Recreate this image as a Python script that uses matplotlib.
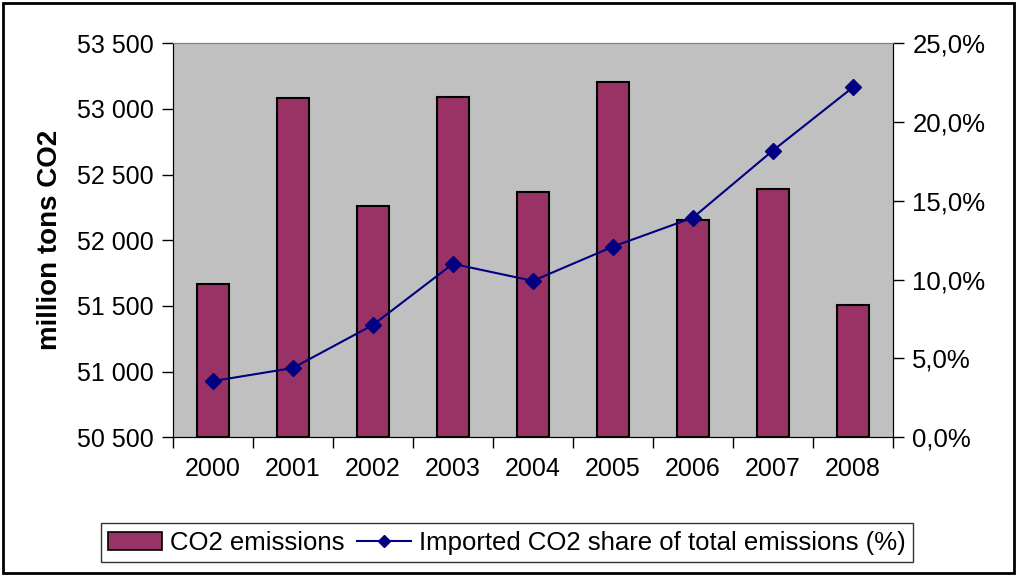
import matplotlib.pyplot as plt
from matplotlib.patches import Rectangle
from matplotlib.ticker import FuncFormatter, FixedLocator

plt.rcParams["font.family"] = ["Liberation Sans", "DejaVu Sans"]

years = ["2000", "2001", "2002", "2003", "2004", "2005", "2006", "2007", "2008"]
co2_emissions = [51668, 53080, 52263, 53088, 52370, 53202, 52156, 52393, 51508]
imported_share = [3.56, 4.39, 7.12, 11.0, 9.92, 12.09, 13.93, 18.19, 22.2]

fig = plt.figure(figsize=(10.17, 5.76), dpi=100)
ax = fig.add_axes([0.170, 0.241, 0.708, 0.684])
ax2 = ax.twinx()

x = list(range(len(years)))
ax.bar(x, [v - 50500 for v in co2_emissions], bottom=50500, width=0.4,
       color="#993366", edgecolor="black", linewidth=1.5, zorder=2)
ax.set_facecolor("#C0C0C0")
ax.set_xlim(-0.5, len(years) - 0.5)
ax.set_ylim(50500, 53500)
ax.set_yticks(range(50500, 53501, 500))
ax.yaxis.set_major_formatter(FuncFormatter(lambda v, p: f"{int(v):,}".replace(",", " ")))
ax.set_ylabel("million tons CO2", fontsize=20, fontweight="bold", labelpad=10)

ax.set_xticks(x)
ax.set_xticklabels(years)
ax.xaxis.set_minor_locator(FixedLocator([i + 0.5 for i in range(-1, len(years))]))
ax.tick_params(axis="x", which="major", length=0, pad=14, labelsize=18)
ax.tick_params(axis="x", which="minor", length=8, width=1, direction="out")
ax.tick_params(axis="y", labelsize=18, length=8, width=1, direction="out", pad=6)

ax2.plot(x, imported_share, color="#000080", linewidth=1.5, marker="D",
         markersize=8, zorder=3)
ax2.set_ylim(0, 25)
ax2.set_yticks(range(0, 26, 5))
ax2.yaxis.set_major_formatter(FuncFormatter(lambda v, p: f"{v:.1f}%".replace(".", ",")))
ax2.tick_params(axis="y", labelsize=18.5, length=8, width=1, direction="out", pad=6)

for a in (ax, ax2):
    a.spines["top"].set_color("#808080")
    a.spines["left"].set_color("black")
    a.spines["right"].set_color("black")
    a.spines["bottom"].set_color("black")

bar_handle = Rectangle((0, 0), 1, 1, facecolor="#993366", edgecolor="black", linewidth=1.2)
line_handle = plt.Line2D([], [], color="#000080", linewidth=1.5, marker="D", markersize=6)
leg = fig.legend([bar_handle, line_handle],
                 ["CO2 emissions", "Imported CO2 share of total emissions (%)"],
                 loc="center", bbox_to_anchor=(0.4985, 0.058), ncol=2, fontsize=18.5,
                 frameon=True, fancybox=False, edgecolor="black", handlelength=2.1,
                 handleheight=0.7, handletextpad=0.3, columnspacing=0.5, borderpad=0.3)
leg.get_frame().set_linewidth(1)

fig.patches.append(Rectangle((0.003, 0.005), 0.994, 0.99, transform=fig.transFigure,
                             fill=False, edgecolor="black", linewidth=2))

fig.savefig("out.png", dpi=100)
